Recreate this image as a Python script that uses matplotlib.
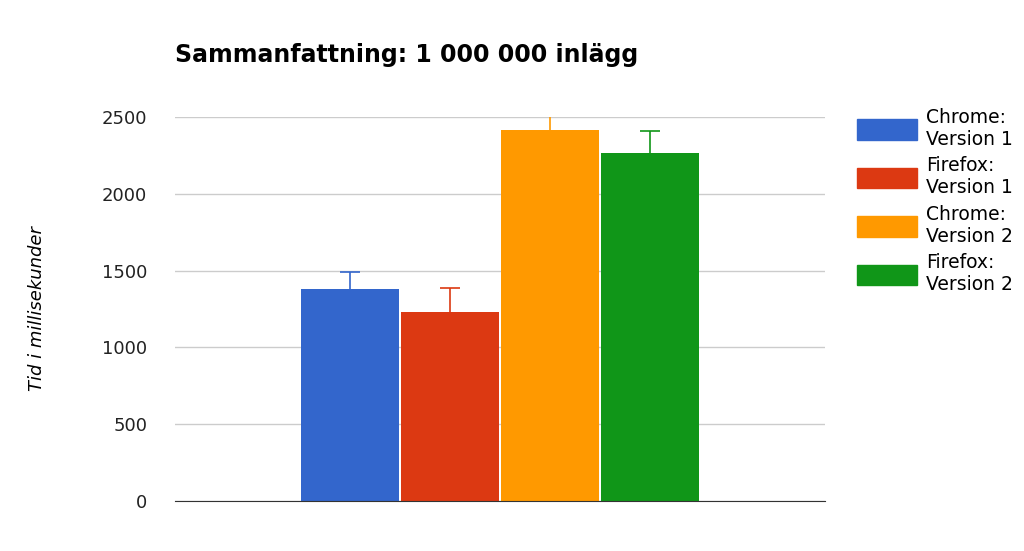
import matplotlib.pyplot as plt
from matplotlib.patches import Patch

labels = ["Chrome:\nVersion 1", "Firefox:\nVersion 1", "Chrome:\nVersion 2", "Firefox:\nVersion 2"]
values = [1380, 1230, 2415, 2266]
err_low = [1302, 1100, 2292, 2135]
err_high = [1490, 1387, 2552, 2409]
colors = ["#3366cc", "#dc3912", "#ff9900", "#109618"]
yticks = [0, 500, 1000, 1500, 2000, 2500]

fig = plt.figure(figsize=(10.24, 5.51), dpi=100)
ax = fig.add_axes([175/1024, 1-501/551, 650/1024, 384/551])

xs = list(range(len(values)))
yerr = [[v - l for v, l in zip(values, err_low)], [h - v for v, h in zip(values, err_high)]]
ax.bar(xs, values, width=0.98, color=colors, zorder=2)
for x, v, lo, hi, c in zip(xs, values, yerr[0], yerr[1], colors):
    ax.errorbar(x, v, yerr=[[lo], [hi]], fmt="none", ecolor=c, capsize=7,
                elinewidth=1.2, capthick=1.2, zorder=3)
    # darker tone for error bars
ax.set_xlim(-1.75, 4.75)
ax.set_ylim(0, 2500)
ax.set_yticks(yticks)
ax.set_yticklabels([str(t) for t in yticks], fontsize=13, color="#222222")
ax.set_xticks([])
ax.yaxis.grid(True, color="#cccccc", linewidth=1, zorder=0)
ax.tick_params(axis="y", length=0, pad=20)
for s in ["top", "right", "left"]:
    ax.spines[s].set_visible(False)
ax.spines["bottom"].set_color("#333333")
ax.spines["bottom"].set_zorder(4)
ax.set_clip_on(False)

ax.set_ylabel("Tid i millisekunder", fontsize=13, style="italic", labelpad=40)
fig.text(175/1024, 1-55/551, "Sammanfattning: 1 000 000 inlägg", fontsize=17,
         fontweight="bold", va="center")

handles = [Patch(color=c) for c in colors]
fig.legend(handles, labels, loc="upper left", bbox_to_anchor=(0.82, 0.835),
           frameon=False, fontsize=13.5, handlelength=3.2, handleheight=1.3,
           labelspacing=0.4, handletextpad=0.5)

fig.savefig("out.png", dpi=100)
